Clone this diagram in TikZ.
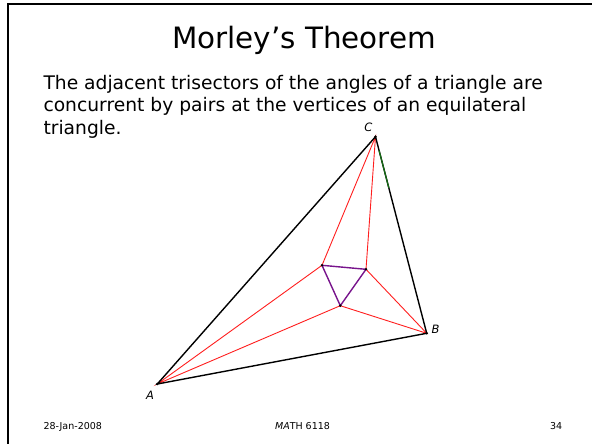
\documentclass[tikz,border=0pt]{standalone}
\usepackage{fontspec}
\setmainfont{DejaVu Sans}
\usetikzlibrary{calc}
\definecolor{trired}{RGB}{255,30,30}
\definecolor{morley}{RGB}{120,20,140}
\definecolor{grn}{RGB}{20,110,20}
\begin{document}
\begin{tikzpicture}[x=1pt,y=-1pt,
  frame/.style={line width=2pt,black},
  side/.style={line width=1.4pt,black,line cap=round},
  trisec/.style={line width=0.9pt,trired},
  mtri/.style={line width=1.4pt,morley,line join=round},
  vlabel/.style={font=\fontsize{11.5}{13}\selectfont\itshape,inner sep=0pt},
  foot/.style={font=\fontsize{9.5}{11}\selectfont,anchor=base,inner sep=0pt},
  body/.style={font=\fontsize{18.7}{22}\selectfont,anchor=base west,inner sep=0pt}]
\useasboundingbox (0,0) rectangle (592,444);
% frame (top and left edges visible)
\coordinate (f1) at (7.5,444);
\coordinate (f2) at (7.5,4.3);
\coordinate (f3) at (592,4.3);
\draw[frame] (f1) -- (f2) -- (f3);
% title and text
\node[font=\fontsize{29.4}{32}\selectfont,anchor=base,inner sep=0pt] (title) at (304,48.3) {Morley’s Theorem};
\node[body] (l1) at (43.3,89) {The adjacent trisectors of the angles of a triangle are};
\node[body] (l2) at (43.3,111.7) {concurrent by pairs at the vertices of an equilateral};
\node[body] (l3) at (43.3,135) {triangle.};
% triangle vertices
\coordinate (A) at (157.3,384);
\coordinate (B) at (426.7,333.3);
\coordinate (C) at (375.5,136.7);
% Morley points
\coordinate (P) at (322,265.3);
\coordinate (Q) at (366,269.3);
\coordinate (R) at (340.3,305.7);
% trisectors
\draw[trisec] (A) -- (P) -- (C) -- (Q) -- (B) -- (R) -- cycle;
% Morley triangle
\draw[mtri] (P) -- (Q) -- (R) -- cycle;
% sides
\draw[side] (A) -- (B) -- (C) -- cycle;
\coordinate (G1) at ($(C)!0.07!(B)$);
\coordinate (G2) at ($(C)!0.26!(B)$);
\draw[line width=1.2pt,grn] (G1) -- (G2);
% dots
\foreach \p in {A,B,C,P,Q,R} \fill[black] (\p) circle (1.4pt);
% labels
\node[vlabel] (lC) at (368.5,127.5) {C};
\node[vlabel] (lB) at (435.5,329.5) {B};
\node[vlabel] (lA) at (150,395.5) {A};
% footer
\node[foot] (date) at (72.8,429.3) {28-Jan-2008};
\node[foot] (course) at (302.5,429.3) {\textit{MA}TH 6118};
\node[foot] (page) at (556.2,429.3) {34};
\end{tikzpicture}
\end{document}
